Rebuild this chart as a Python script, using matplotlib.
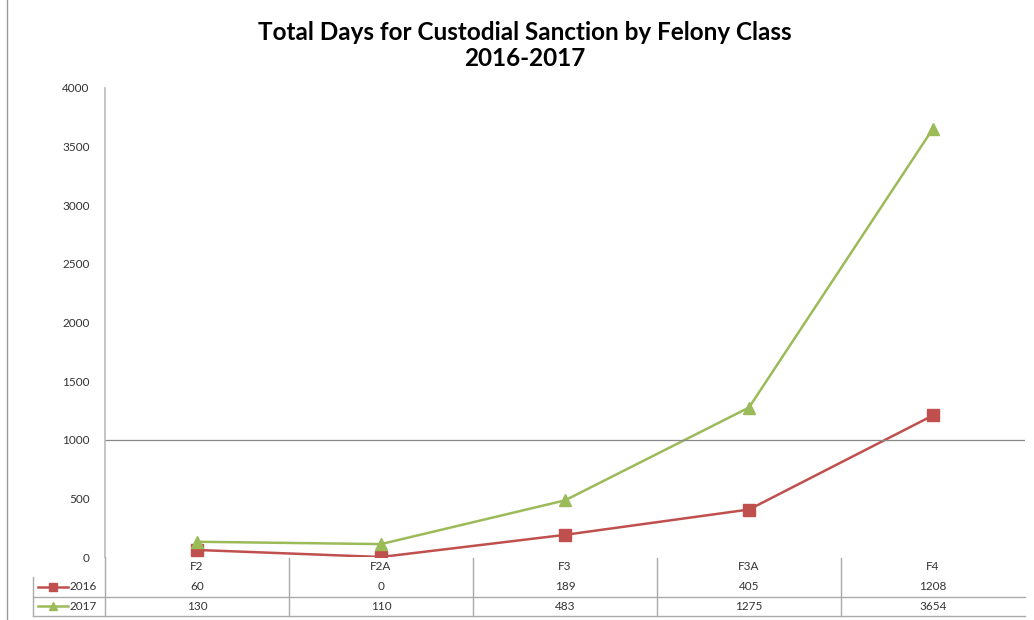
import matplotlib
matplotlib.use("Agg")
import matplotlib.pyplot as plt
from matplotlib.lines import Line2D

plt.rcParams['font.family'] = ['Lato', 'DejaVu Sans']

classes = ["F2", "F2A", "F3", "F3A", "F4"]
years = ["2016", "2017"]
days_2016 = [60, 0, 189, 405, 1208]
days_2017 = [130, 110, 483, 1275, 3654]
yticks = [0, 500, 1000, 1500, 2000, 2500, 3000, 3500, 4000]

red = "#C0504D"
green = "#9BBB59"

W, H = 1034, 620
fig = plt.figure(figsize=(W / 100, H / 100), dpi=100)

# plot area in pixels
x0, x1, ytop, ybot = 105, 1025, 88, 557
ax = fig.add_axes([x0 / W, 1 - ybot / H, (x1 - x0) / W, (ybot - ytop) / H])

xs = range(len(classes))
ax.plot(xs, days_2016, color=red, lw=1.8, marker="s", ms=8, label="2016")
ax.plot(xs, days_2017, color=green, lw=1.8, marker="^", ms=8, label="2017")

ax.set_xlim(-0.5, len(classes) - 0.5)
ax.set_ylim(0, 4000)
ax.set_yticks(yticks)
ax.set_yticklabels([str(v) for v in yticks], fontsize=8.5, color="#333333")
ax.tick_params(axis="y", length=0, pad=11)
ax.set_xticks([])
ax.axhline(1000, color="#888888", lw=0.9)
for s in ["top", "right", "bottom"]:
    ax.spines[s].set_visible(False)
ax.spines["left"].set_color("#bbbbbb")
ax.spines["left"].set_linewidth(1.2)

fig.text(525 / W, 1 - 32 / H, "Total Days for Custodial Sanction by Felony Class",
         ha="center", va="center", fontsize=17.5, fontweight="bold")
fig.text(525 / W, 1 - 58 / H, "2016-2017", ha="center", va="center",
         fontsize=17.5, fontweight="bold")

# data table below the axis
col_w = (x1 - x0) / len(classes)
def fx(px):
    return px / W
def fy(py):
    return 1 - py / H

line_kw = dict(color="#aaaaaa", lw=1.0, transform=fig.transFigure)
# vertical separators
for k in range(1, len(classes)):
    xx = x0 + k * col_w
    fig.add_artist(Line2D([fx(xx), fx(xx)], [fy(558), fy(616)], **line_kw))
fig.add_artist(Line2D([fx(33), fx(33)], [fy(577), fy(616)], **line_kw))
fig.add_artist(Line2D([fx(x0), fx(x0)], [fy(557), fy(616)], **line_kw))
# horizontal lines
fig.add_artist(Line2D([fx(33), fx(x1)], [fy(597), fy(597)], **line_kw))
fig.add_artist(Line2D([fx(33), fx(x1)], [fy(616), fy(616)], **line_kw))
# outer left border
fig.add_artist(Line2D([fx(7), fx(7)], [0, 1], color="#999999", lw=1.0,
                      transform=fig.transFigure))

for i, c in enumerate(classes):
    cx = x0 + (i + 0.5) * col_w
    fig.text(fx(cx), fy(567), c, ha="center", va="center", fontsize=8.5, color="#333333")
    fig.text(fx(cx), fy(587), str(days_2016[i]), ha="center", va="center",
             fontsize=8.5, color="#333333")
    fig.text(fx(cx), fy(606), str(days_2017[i]), ha="center", va="center",
             fontsize=8.5, color="#333333")

for yy, year, col, mk in [(587, years[0], red, "s"), (606, years[1], green, "^")]:
    fig.add_artist(Line2D([fx(38), fx(68)], [fy(yy), fy(yy)], color=col, lw=1.8,
                          transform=fig.transFigure))
    fig.add_artist(Line2D([fx(53)], [fy(yy)], color=col, marker=mk, ms=6,
                          transform=fig.transFigure))
    fig.text(fx(70), fy(yy), year, ha="left", va="center", fontsize=8.5, color="#333333")

fig.savefig("out.png", dpi=100)
